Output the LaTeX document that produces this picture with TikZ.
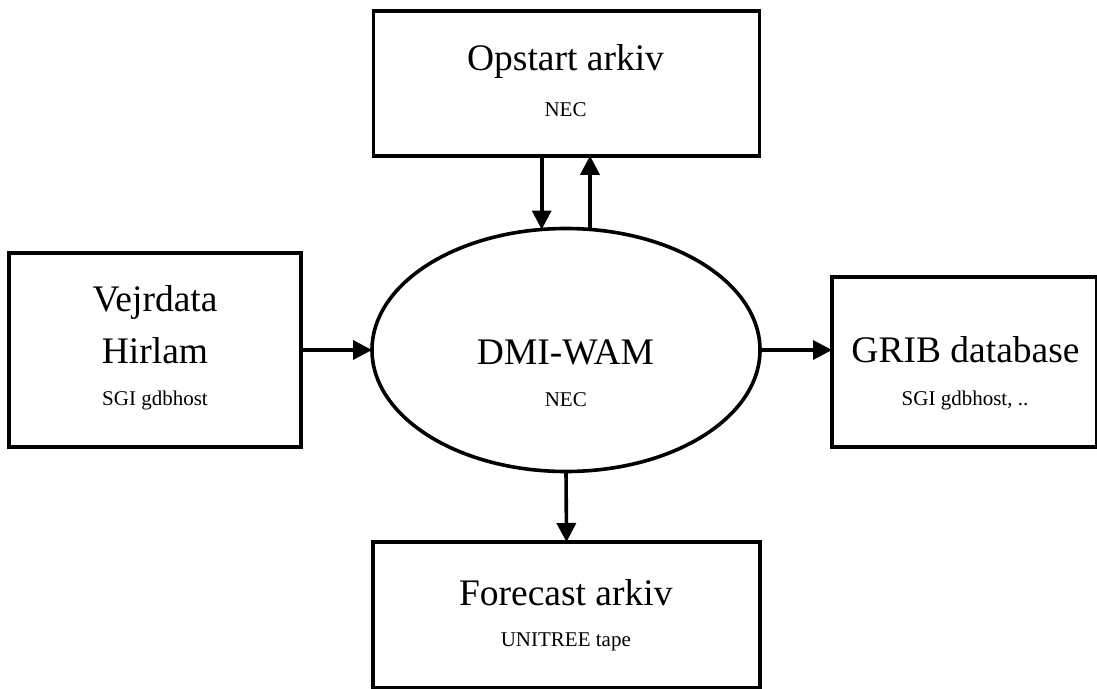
\documentclass[tikz,border=0pt]{standalone}
\usepackage{fontspec}
\setmainfont{Liberation Serif}
\usetikzlibrary{shapes.geometric,arrows.meta}
\tikzset{
  box/.style={draw=black, line width=3.6pt, rectangle, inner sep=0pt, outer sep=0pt},
  ellbox/.style={draw=black, line width=3.6pt, ellipse, inner sep=0pt, outer sep=0pt},
  arr/.style={draw=black, line width=3.6pt, -{Triangle[length=19pt,width=19pt]}},
  big/.style={anchor=base, inner sep=0pt, font=\fontsize{37.5}{44}\selectfont},
  small/.style={anchor=base, inner sep=0pt, font=\fontsize{21}{25}\selectfont}
}
\begin{document}
\begin{tikzpicture}[x=1pt,y=-1pt]
\useasboundingbox (0,0) rectangle (1097,688);
% boxes
\node[box, minimum width=386pt, minimum height=145pt] (top) at (566.3,83.3) {};
\node[box, minimum width=292pt, minimum height=194pt] (left) at (155,350) {};
\node[box, minimum width=265pt, minimum height=170pt] (right) at (964.5,362) {};
\node[box, minimum width=387pt, minimum height=146pt] (bot) at (566.5,615) {};
\node[ellbox, minimum width=388pt, minimum height=243pt] (ell) at (566,350) {};
% texts
\node[big] (t1) at (565.5,70) {Opstart arkiv};
\node[small] (t2) at (565.5,116.7) {NEC};
\node[big] (l1) at (155,311.7) {Vejrdata};
\node[big] (l2) at (155,363.3) {Hirlam};
\node[small] (l3) at (155,405) {SGI gdbhost};
\node[big] (e1) at (565.5,364) {DMI-WAM};
\node[small] (e2) at (565.8,406.7) {NEC};
\node[big] (r1) at (965.5,362.7) {GRIB database};
\node[small] (r2) at (965,405) {SGI gdbhost, ..};
\node[big] (b1) at (565.8,605.7) {Forecast arkiv};
\node[small] (b2) at (565.8,646.7) {UNITREE tape};
% connectors
\coordinate (d1) at (541.7,229.5);
\coordinate (u1) at (590,229.5);
\draw[arr] (top.south -| d1) -- (d1);
\draw[arr] (u1) -- (top.south -| u1);
\draw[arr] (left.east |- ell.west) -- (ell.west);
\draw[arr] (ell.east) -- (right.west |- ell.east);
\draw[arr] (ell.south) -- (bot.north);
\end{tikzpicture}
\end{document}
